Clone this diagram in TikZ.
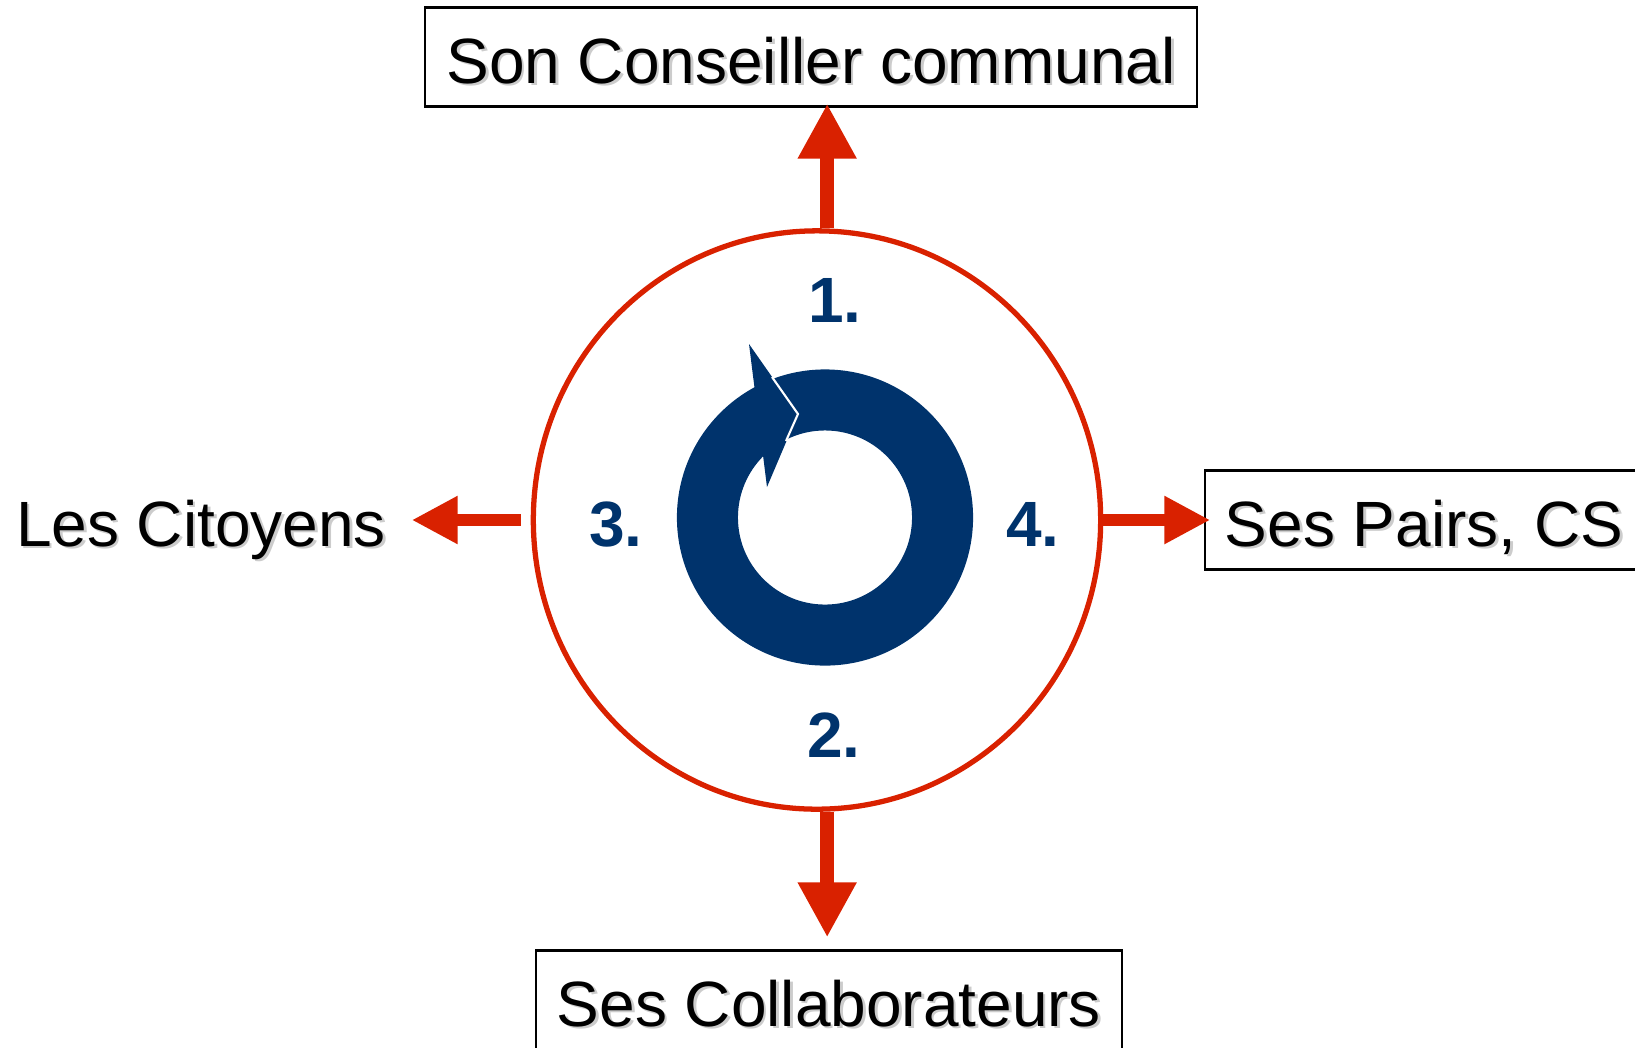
\documentclass[tikz,border=0pt]{standalone}
\usepackage{fontspec}
\setmainfont{Liberation Sans}
\usetikzlibrary{arrows.meta,shapes.geometric}

\definecolor{rouge}{RGB}{217,33,0}
\definecolor{bleu}{RGB}{0,51,108}
\newcommand\cadretexte{\fontsize{18.2}{22}\selectfont}
\newcommand\ombre[1]{\rlap{\hspace{0.8pt}\raisebox{-0.8pt}{\color{black!20}#1}}#1}

\begin{document}
\begin{tikzpicture}[x=0.01cm, y=-0.01cm,
    cadre/.style={draw, line width=0.6pt, minimum height=0.99cm, inner sep=0pt,
      text height=0.62cm, text depth=0.1cm, font=\cadretexte},
    libre/.style={inner sep=0pt, text height=0.62cm, text depth=0.1cm, font=\cadretexte},
    numero/.style={text=bleu, font=\cadretexte\bfseries},
    flechev/.style={color=rouge, line width=4.1pt, -{Triangle[length=0.55cm, width=0.55cm]}},
    flecheh/.style={color=rouge, line width=3.6pt, -{Triangle[length=0.46cm, width=0.45cm]}}]
  \useasboundingbox (0,0) rectangle (1635,1047);
  % interlocuteurs
  \node[cadre, minimum width=7.72cm] (conseiller) at (811,57) {\ombre{Son Conseiller communal}};
  \node[cadre, minimum width=5.86cm] (collab) at (829,1000) {\ombre{Ses Collaborateurs}};
  \node[cadre, minimum width=4.37cm] (pairs) at (1424,520) {\ombre{Ses Pairs, CS}};
  \node[libre] (citoyens) at (201,520) {\ombre{Les Citoyens}};
  % cercle et cycle
  \node[ellipse, draw=rouge, line width=1.5pt, minimum width=5.67cm, minimum height=5.78cm] (cercle) at (817,520) {};
  \fill[bleu, even odd rule] (825,517.5) circle[radius=1.48cm] circle[radius=0.87cm];
  \fill[bleu] (749,344) -- (798,414) -- (767,487) -- cycle;
  \draw[white, line width=0.6pt] (772,377) -- (798,414) -- (786,441);
  \node[numero] (n1) at (835,300) {1.};
  \node[numero] (n2) at (834,735) {2.};
  \node[numero] (n3) at (616,524) {3.};
  \node[numero] (n4) at (1033,524) {4.};
  % fleches
  \draw[flechev, shorten >=-0.04cm] (cercle.88) -- (cercle.88 |- conseiller.south);
  \draw[flechev, shorten >=0.12cm] (cercle.-88) -- (cercle.-88 |- collab.north);
  \draw[flecheh, shorten <=0.1cm, shorten >=0.25cm] (cercle.west) -- (citoyens.east);
  \draw[flecheh, shorten >=-0.06cm] (cercle.east) -- (pairs.west);
\end{tikzpicture}
\end{document}
